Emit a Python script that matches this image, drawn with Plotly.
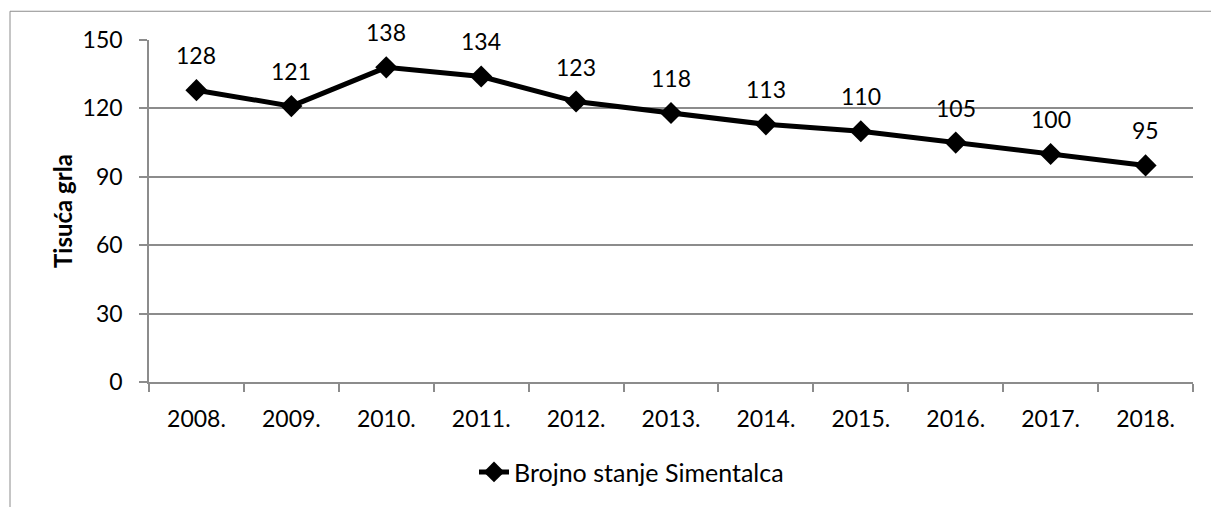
import plotly.graph_objects as go

years = ["2008.", "2009.", "2010.", "2011.", "2012.", "2013.", "2014.", "2015.", "2016.", "2017.", "2018."]
values = [128, 121, 138, 134, 123, 118, 113, 110, 105, 100, 95]
series_name = "Brojno stanje Simentalca"
y_title = "Tisuća grla"
y_ticks = [0, 30, 60, 90, 120, 150]

FONT = "Lato"
FS = 23
GRID = "#8c8c8c"

fig = go.Figure()
fig.add_trace(go.Scatter(
    x=years, y=values, name=series_name, mode="lines+markers",
    line=dict(color="black", width=5),
    marker=dict(symbol="diamond", size=17, color="black"),
    cliponaxis=False,
))

for i, yv in enumerate(values):
    fig.add_annotation(x=i, y=yv, xref="x", yref="y", text=str(yv), showarrow=False,
                       yanchor="middle", yshift=35,
                       font=dict(family=FONT, size=FS, color="black"))

W, H = 1211, 507
L, R, T, B = 149, 18, 40, 122
pw, ph = W - L - R, H - T - B

def px(xp):
    return (xp - L) / pw

def py(yp):
    return (H - B - yp) / ph

fig.add_shape(type="rect", xref="paper", yref="paper",
              x0=px(10), x1=px(1260), y0=py(11), y1=py(560),
              line=dict(color=GRID, width=1), layer="below")

fig.update_layout(
    width=W, height=H,
    margin=dict(l=L, r=R, t=T, b=B),
    paper_bgcolor="white", plot_bgcolor="white",
    font=dict(family=FONT, size=FS, color="black"),
    showlegend=True,
    legend=dict(orientation="h", xanchor="left", yanchor="middle",
                x=px(474), y=py(476), font=dict(family=FONT, size=25, color="black"),
                bgcolor="rgba(0,0,0,0)"),
    xaxis=dict(type="category", range=[-0.5, 10.5], showgrid=False,
               showline=True, linecolor=GRID, linewidth=1.5,
               ticks="outside", tickson="boundaries", ticklen=8, tickcolor=GRID, tickwidth=1.5,
               ticklabelstandoff=16,
               tickfont=dict(family=FONT, size=FS, color="black")),
    yaxis=dict(range=[0, 150], tickvals=y_ticks, showgrid=True, gridcolor=GRID, gridwidth=1.5,
               showline=True, linecolor=GRID, linewidth=1.5, zeroline=False,
               ticks="outside", ticklen=8, tickcolor=GRID, tickwidth=1.5,
               ticklabelstandoff=12,
               tickfont=dict(family=FONT, size=FS, color="black")),
)

fig.add_annotation(xref="paper", yref="paper", x=px(62), y=0.5, text="<b>" + y_title + "</b>",
                   textangle=-90, showarrow=False, xanchor="center", yanchor="middle",
                   font=dict(family=FONT, size=24, color="black"))

fig.write_html("out.html", config={"displayModeBar": False},
               post_script="document.body.style.margin='0';document.body.style.overflow='hidden';")
